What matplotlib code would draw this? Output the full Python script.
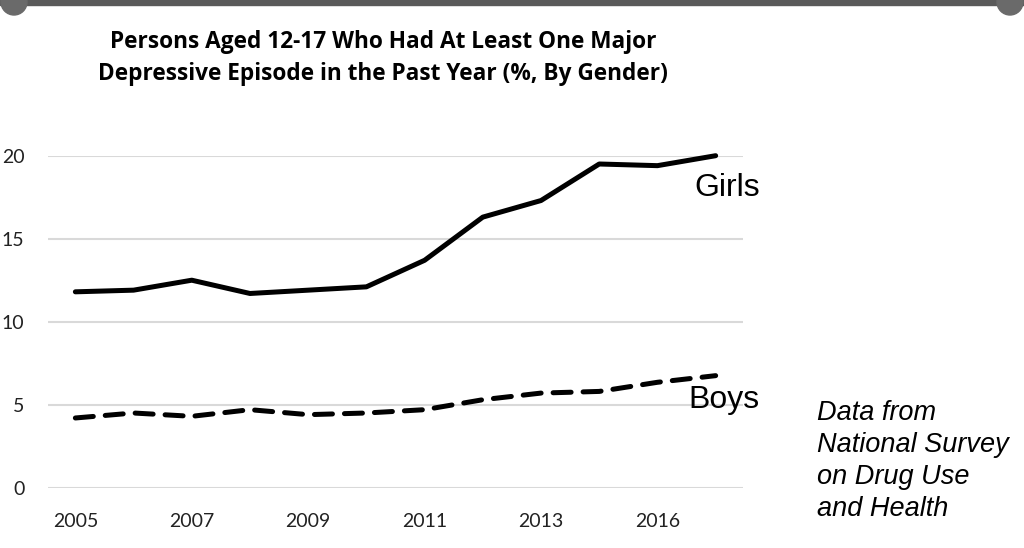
import matplotlib
matplotlib.use("Agg")
import matplotlib.pyplot as plt
from matplotlib.patches import Rectangle, Ellipse
from matplotlib import font_manager

years = ["2005", "2006", "2007", "2008", "2009", "2010", "2011", "2012", "2013", "2014", "2016", "2017"]
girls = [11.8, 11.9, 12.5, 11.7, 11.9, 12.1, 13.7, 16.3, 17.3, 19.5, 19.4, 20.0]
boys = [4.2, 4.5, 4.3, 4.7, 4.4, 4.5, 4.7, 5.3, 5.7, 5.8, 6.35, 6.75]
yticks = [0, 5, 10, 15, 20]
title = "Persons Aged 12-17 Who Had At Least One Major\nDepressive Episode in the Past Year (%, By Gender)"
note = "Data from\nNational Survey\non Drug Use\nand Health"

names = {f.name for f in font_manager.fontManager.ttflist}
narrow = "Liberation Sans Narrow" if "Liberation Sans Narrow" in names else "Open Sans"
tickfont = "Lato" if "Lato" in names else "DejaVu Sans"

W, H = 1024, 548
fig = plt.figure(figsize=(W / 100, H / 100), dpi=100)
fig.patch.set_facecolor("white")

# top screenshot bar with rounded knobs
fig.patches.append(Rectangle((0, 1 - 5 / H), 1, 5 / H, transform=fig.transFigure,
                             color="#5a5a5a", zorder=0))
for cx in (14, 1010):
    fig.patches.append(Ellipse((cx / W, 1 - 2 / H), 26 / W, 26 / H, transform=fig.transFigure,
                               color="#6a6a6a", zorder=0))

ax = fig.add_axes([48 / W, 1 - 487.7 / H, (743 - 48) / W, (487.7 - 155.7) / H])
x = list(range(len(years)))
ax.plot(x, girls, color="black", lw=3.6, solid_capstyle="round", solid_joinstyle="round", clip_on=False)
ax.plot(x, boys, color="black", lw=3.6, dashes=(3.6, 2.4), dash_capstyle="round", clip_on=False)

ax.set_xlim(-0.47, len(years) - 1 + 0.47)
ax.set_ylim(0, 20)
ax.set_yticks(yticks)
ax.set_yticklabels([str(v) for v in yticks], fontsize=14, family=tickfont, color="#222222")
ax.set_xticks(x[::2])
ax.set_xticklabels(years[::2], fontsize=14, family=tickfont, color="#222222")
ax.tick_params(axis="y", length=0, pad=17)
ax.tick_params(axis="x", length=0, pad=18)
ax.grid(axis="y", color="#d9d9d9", lw=1.5)
ax.set_axisbelow(True)
for s in ax.spines.values():
    s.set_visible(False)

fig.text(383 / W, 1 - 58 / H, title, ha="center", va="center", fontsize=16.3,
         fontweight="bold", family=narrow, linespacing=1.5)

fig.text(727 / W, 1 - 188 / H, "Girls", ha="center", va="center", fontsize=23,
         family="Liberation Sans")
fig.text(724 / W, 1 - 400 / H, "Boys", ha="center", va="center", fontsize=23,
         family="Liberation Sans")
fig.text(817 / W, 1 - 461 / H, note, ha="left", va="center", fontsize=19.5,
         style="italic", family="Liberation Sans", linespacing=1.3)

fig.savefig("out.png", dpi=100)
